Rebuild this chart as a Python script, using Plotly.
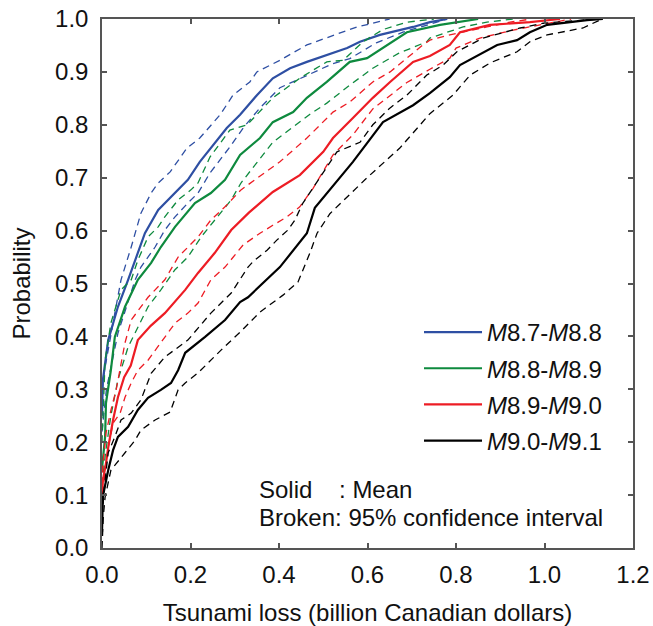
import plotly.graph_objects as go

# ---------------- data ----------------
series_names = ["<i>M</i>8.7-<i>M</i>8.8", "<i>M</i>8.8-<i>M</i>8.9",
                "<i>M</i>8.9-<i>M</i>9.0", "<i>M</i>9.0-<i>M</i>9.1"]
series_colors = ["#2E4FA3", "#0E8A3E", "#ED1C24", "#000000"]

# M8.7-M8.8
blue_mean_x = [0, 0.002, 0.014, 0.036, 0.059, 0.081, 0.097, 0.127, 0.165, 0.194, 0.221, 0.251, 0.282, 0.312, 0.35, 0.386, 0.425, 0.463, 0.508, 0.554, 0.583, 0.628, 0.703, 0.741, 0.78]
blue_mean_y = [0.25, 0.318, 0.393, 0.456, 0.507, 0.558, 0.595, 0.639, 0.671, 0.696, 0.73, 0.762, 0.794, 0.819, 0.856, 0.888, 0.907, 0.919, 0.932, 0.945, 0.957, 0.97, 0.985, 0.994, 1.0]
blue_up_x = [0, 0.007, 0.029, 0.043, 0.066, 0.088, 0.111, 0.127, 0.154, 0.192, 0.221, 0.267, 0.296, 0.334, 0.35, 0.402, 0.463, 0.515, 0.576, 0.612, 0.65]
blue_up_y = [0.3, 0.342, 0.444, 0.507, 0.569, 0.633, 0.671, 0.69, 0.711, 0.756, 0.775, 0.819, 0.856, 0.881, 0.90, 0.922, 0.951, 0.966, 0.985, 0.992, 1.0]
blue_lo_x = [0, 0.01, 0.036, 0.075, 0.088, 0.12, 0.142, 0.165, 0.194, 0.217, 0.244, 0.289, 0.319, 0.357, 0.402, 0.463, 0.52, 0.56, 0.62, 0.68, 0.74, 0.78]
blue_lo_y = [0.22, 0.3, 0.406, 0.507, 0.531, 0.569, 0.601, 0.626, 0.652, 0.671, 0.709, 0.758, 0.794, 0.832, 0.87, 0.894, 0.915, 0.925, 0.955, 0.975, 0.99, 1.0]

# M8.8-M8.9
green_mean_x = [0, 0.002, 0.007, 0.009, 0.02, 0.029, 0.052, 0.081, 0.111, 0.133, 0.165, 0.21, 0.246, 0.278, 0.312, 0.357, 0.386, 0.432, 0.463, 0.508, 0.56, 0.599, 0.644, 0.689, 0.764, 0.85]
green_mean_y = [0.15, 0.172, 0.21, 0.274, 0.336, 0.399, 0.456, 0.507, 0.539, 0.569, 0.607, 0.652, 0.671, 0.696, 0.743, 0.775, 0.805, 0.824, 0.851, 0.881, 0.919, 0.926, 0.951, 0.975, 0.989, 1.0]
green_up_x = [0, 0.003, 0.007, 0.02, 0.043, 0.066, 0.081, 0.104, 0.127, 0.142, 0.172, 0.201, 0.217, 0.244, 0.289, 0.328, 0.386, 0.447, 0.508, 0.545, 0.59, 0.635, 0.689, 0.75]
green_up_y = [0.2, 0.28, 0.355, 0.425, 0.488, 0.507, 0.544, 0.588, 0.607, 0.626, 0.658, 0.677, 0.69, 0.739, 0.79, 0.80, 0.851, 0.888, 0.919, 0.922, 0.957, 0.98, 0.994, 1.0]
green_lo_x = [0, 0.008, 0.02, 0.036, 0.059, 0.104, 0.133, 0.165, 0.194, 0.224, 0.255, 0.292, 0.314, 0.357, 0.386, 0.43, 0.47, 0.508, 0.56, 0.612, 0.67, 0.734, 0.741, 0.816, 0.87, 0.93]
green_lo_y = [0.12, 0.18, 0.25, 0.318, 0.38, 0.456, 0.488, 0.526, 0.55, 0.588, 0.62, 0.658, 0.69, 0.737, 0.767, 0.795, 0.82, 0.841, 0.875, 0.907, 0.935, 0.957, 0.964, 0.985, 0.994, 1.0]

# M8.9-M9.0
red_mean_x = [0, 0.002, 0.009, 0.014, 0.025, 0.036, 0.05, 0.065, 0.081, 0.11, 0.142, 0.188, 0.217, 0.255, 0.292, 0.332, 0.386, 0.447, 0.5, 0.522, 0.567, 0.612, 0.651, 0.703, 0.741, 0.786, 0.809, 0.877, 0.967, 1.035]
red_mean_y = [0.09, 0.128, 0.16, 0.19, 0.242, 0.285, 0.323, 0.345, 0.393, 0.42, 0.444, 0.488, 0.52, 0.558, 0.601, 0.634, 0.673, 0.705, 0.749, 0.775, 0.813, 0.851, 0.881, 0.919, 0.93, 0.951, 0.975, 0.989, 0.994, 1.0]
red_up_x = [0, 0.002, 0.009, 0.02, 0.032, 0.04, 0.052, 0.066, 0.104, 0.142, 0.172, 0.217, 0.246, 0.278, 0.314, 0.402, 0.463, 0.522, 0.56, 0.612, 0.651, 0.689, 0.725, 0.741, 0.786, 0.87, 0.922, 0.97]
red_up_y = [0.12, 0.16, 0.217, 0.26, 0.299, 0.336, 0.388, 0.431, 0.474, 0.507, 0.55, 0.588, 0.62, 0.645, 0.677, 0.73, 0.775, 0.824, 0.843, 0.881, 0.90, 0.926, 0.951, 0.96, 0.97, 0.985, 0.994, 1.0]
red_lo_x = [0, 0.005, 0.014, 0.025, 0.041, 0.052, 0.066, 0.081, 0.104, 0.142, 0.165, 0.194, 0.217, 0.246, 0.278, 0.319, 0.357, 0.386, 0.418, 0.447, 0.477, 0.522, 0.567, 0.612, 0.658, 0.689, 0.741, 0.786, 0.80, 0.854, 0.929, 0.99, 1.06]
red_lo_y = [0.08, 0.13, 0.19, 0.236, 0.255, 0.285, 0.312, 0.336, 0.355, 0.399, 0.425, 0.444, 0.463, 0.507, 0.531, 0.573, 0.595, 0.61, 0.626, 0.645, 0.68, 0.743, 0.781, 0.83, 0.86, 0.88, 0.905, 0.926, 0.945, 0.964, 0.979, 0.989, 1.0]

# M9.0-M9.1
black_mean_x = [0, 0.002, 0.002, 0.014, 0.025, 0.036, 0.059, 0.081, 0.104, 0.133, 0.156, 0.172, 0.188, 0.233, 0.278, 0.312, 0.33, 0.402, 0.463, 0.481, 0.567, 0.635, 0.703, 0.741, 0.786, 0.809, 0.893, 0.938, 0.967, 1.006, 1.096, 1.132]
black_mean_y = [0.03, 0.072, 0.098, 0.147, 0.185, 0.21, 0.229, 0.261, 0.284, 0.299, 0.312, 0.336, 0.369, 0.399, 0.431, 0.465, 0.474, 0.531, 0.595, 0.643, 0.73, 0.805, 0.837, 0.86, 0.89, 0.913, 0.951, 0.96, 0.975, 0.989, 0.998, 1.0]
black_up_x = [0, 0.004, 0.007, 0.014, 0.029, 0.043, 0.066, 0.088, 0.111, 0.142, 0.194, 0.246, 0.292, 0.33, 0.341, 0.373, 0.395, 0.42, 0.436, 0.454, 0.493, 0.531, 0.583, 0.612, 0.651, 0.689, 0.734, 0.771, 0.802, 0.861, 0.945, 0.997, 1.087, 1.13]
black_up_y = [0.06, 0.1, 0.128, 0.18, 0.21, 0.242, 0.255, 0.28, 0.33, 0.361, 0.393, 0.444, 0.482, 0.531, 0.541, 0.563, 0.582, 0.601, 0.62, 0.652, 0.70, 0.749, 0.767, 0.80, 0.832, 0.856, 0.894, 0.913, 0.938, 0.964, 0.983, 0.992, 0.998, 1.0]
black_lo_x = [0, 0.003, 0.007, 0.02, 0.052, 0.075, 0.088, 0.12, 0.154, 0.172, 0.188, 0.217, 0.269, 0.312, 0.357, 0.409, 0.443, 0.47, 0.486, 0.515, 0.599, 0.673, 0.741, 0.793, 0.832, 0.877, 0.938, 0.967, 1.006, 1.087, 1.13]
black_lo_y = [0.0, 0.06, 0.096, 0.147, 0.18, 0.204, 0.223, 0.242, 0.257, 0.299, 0.312, 0.331, 0.374, 0.408, 0.446, 0.478, 0.503, 0.558, 0.595, 0.632, 0.70, 0.756, 0.821, 0.856, 0.894, 0.917, 0.938, 0.957, 0.97, 0.983, 1.0]

x_ticks = [0.0, 0.2, 0.4, 0.6, 0.8, 1.0, 1.2]
y_ticks = [0.0, 0.1, 0.2, 0.3, 0.4, 0.5, 0.6, 0.7, 0.8, 0.9, 1.0]

series = [
    (blue_mean_x, blue_mean_y, blue_up_x, blue_up_y, blue_lo_x, blue_lo_y),
    (green_mean_x, green_mean_y, green_up_x, green_up_y, green_lo_x, green_lo_y),
    (red_mean_x, red_mean_y, red_up_x, red_up_y, red_lo_x, red_lo_y),
    (black_mean_x, black_mean_y, black_up_x, black_up_y, black_lo_x, black_lo_y),
]

FONT = "Liberation Sans, Arial, sans-serif"
AXIS_COLOR = "#555555"
TEXT_COLOR = "#111111"
FS = 24

fig = go.Figure()
for i, (mx, my, ux, uy, lx, ly) in enumerate(series):
    col = series_colors[i]
    grp = f"g{i}"
    for bx, by in ((ux, uy), (lx, ly)):
        fig.add_trace(go.Scatter(x=bx, y=by, mode="lines", legendgroup=grp, showlegend=False,
                                 line=dict(color=col, width=1.3, dash="7px,5px"), hoverinfo="skip"))
    fig.add_trace(go.Scatter(x=mx, y=my, mode="lines", name=series_names[i], legendgroup=grp,
                             line=dict(color=col, width=2.2)))

axis_common = dict(
    showgrid=False, zeroline=False, showline=True, linecolor=AXIS_COLOR, linewidth=1.5,
    mirror="ticks", ticks="inside", ticklen=5, tickwidth=1.5, tickcolor=AXIS_COLOR,
    tickfont=dict(family=FONT, size=FS, color=TEXT_COLOR), automargin=False,
    ticklabeloverflow="allow", layer="above traces",
)

fig.update_layout(
    width=653, height=626,
    margin=dict(l=102, r=20, t=19, b=78),
    paper_bgcolor="white", plot_bgcolor="white",
    font=dict(family=FONT, size=FS, color=TEXT_COLOR),
    xaxis=dict(range=[0, 1.2], tickvals=x_ticks, ticktext=[f"{v:.1f}" for v in x_ticks],
               ticklabelstandoff=4,
               title=dict(text="Tsunami loss (billion Canadian dollars)", standoff=24,
                          font=dict(family=FONT, size=FS, color=TEXT_COLOR)), **axis_common),
    yaxis=dict(range=[0, 1.0], tickvals=y_ticks, ticktext=[f"{v:.1f}" for v in y_ticks],
               ticklabelstandoff=7,
               title=dict(text="Probability", standoff=18,
                          font=dict(family=FONT, size=FS, color=TEXT_COLOR)),
               **axis_common),
    legend=dict(x=0.597, y=0.45, xanchor="left", yanchor="top", bgcolor="rgba(0,0,0,0)",
                font=dict(family=FONT, size=FS, color=TEXT_COLOR), itemwidth=58, tracegroupgap=2),
    showlegend=True,
)

fig.add_annotation(x=0.292, y=0.110, xref="paper", yref="paper", xanchor="left", yanchor="middle",
                   text="Solid\u00a0\u00a0\u00a0\u00a0: Mean", showarrow=False,
                   font=dict(family=FONT, size=FS, color=TEXT_COLOR))
fig.add_annotation(x=0.292, y=0.057, xref="paper", yref="paper", xanchor="left", yanchor="middle",
                   text="Broken: 95% confidence interval", showarrow=False,
                   font=dict(family=FONT, size=FS, color=TEXT_COLOR))

# remove the browser's default 8px page margin so the 653x626 figure fills the window exactly
fig.write_html("out.html", config={"displayModeBar": False},
               post_script="document.body.style.margin='0';document.body.style.overflow='hidden';")
